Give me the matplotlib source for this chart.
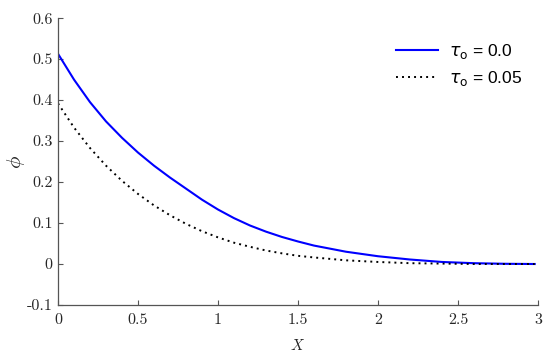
import numpy as np
import matplotlib
matplotlib.use("Agg")
import matplotlib.pyplot as plt
from matplotlib.ticker import FuncFormatter

# values
x_vals = [0.0, 0.1, 0.2, 0.3, 0.4, 0.5, 0.6, 0.7, 0.8, 0.9, 1.0, 1.1, 1.2,
          1.3, 1.4, 1.5, 1.6, 1.8, 2.0, 2.2, 2.4, 2.6, 2.8, 2.98]
phi_tau0 = [0.513, 0.450, 0.395, 0.348, 0.308, 0.272, 0.240, 0.211, 0.184,
            0.157, 0.133, 0.112, 0.094, 0.079, 0.066, 0.055, 0.045, 0.030,
            0.019, 0.011, 0.005, 0.002, 0.0005, 0.0]
phi_tau005 = [0.392, 0.333, 0.283, 0.240, 0.203, 0.171, 0.143, 0.119, 0.098,
              0.080, 0.065, 0.052, 0.042, 0.033, 0.026, 0.020, 0.016, 0.009,
              0.005, 0.002, 0.001, 0.0, 0.0, 0.0]
legend_labels = [r"$\tau_{\mathrm{o}}$ = 0.0", r"$\tau_{\mathrm{o}}$ = 0.05"]
xticks = [0, 0.5, 1, 1.5, 2, 2.5, 3]
yticks = [-0.1, 0, 0.1, 0.2, 0.3, 0.4, 0.5, 0.6]

plt.rcParams['mathtext.fontset'] = 'cm'

fig = plt.figure(figsize=(5.5, 3.56), dpi=100)
ax = fig.add_axes([0.1055, 0.1433, 0.8725, 0.8057])

ax.plot(x_vals, phi_tau0, color='#0000ff', lw=1.5, label=legend_labels[0])
ax.plot(x_vals, phi_tau005, color='black', lw=1.4, linestyle=(0, (1, 2.1)),
        label=legend_labels[1])

ax.set_xlim(0, 3)
ax.set_ylim(-0.1, 0.6)
ax.set_xticks(xticks)
ax.set_yticks(yticks)
ax.xaxis.set_major_formatter(FuncFormatter(lambda v, p: '%g' % v))
ax.yaxis.set_major_formatter(FuncFormatter(lambda v, p: '%g' % round(v, 2)))

for s in ['top', 'right']:
    ax.spines[s].set_visible(False)
for s in ['left', 'bottom']:
    ax.spines[s].set_color('#555555')
    ax.spines[s].set_linewidth(0.9)

ax.tick_params(direction='in', length=3.5, width=0.8, color='#555555',
               labelcolor='#262626')
ax.tick_params(axis='y', pad=4)
ax.tick_params(axis='x', pad=6)
for lab in ax.get_xticklabels() + ax.get_yticklabels():
    lab.set_fontfamily('cmr10')
    lab.set_fontsize(11.5)

ax.set_ylabel(r'$\phi$', fontsize=15, color='#262626')
ax.yaxis.set_label_coords(-0.065, 0.5)
ax.set_xlabel(r'$X$', fontsize=11, color='#262626', labelpad=8)

leg = ax.legend(loc='upper right', bbox_to_anchor=(1.0, 0.972), frameon=False,
                handlelength=2.4, handletextpad=0.63, labelspacing=0.5,
                prop={'family': 'Liberation Sans', 'size': 12.5,
                      'math_fontfamily': 'dejavusans'})

fig.savefig('out.png', dpi=100)
